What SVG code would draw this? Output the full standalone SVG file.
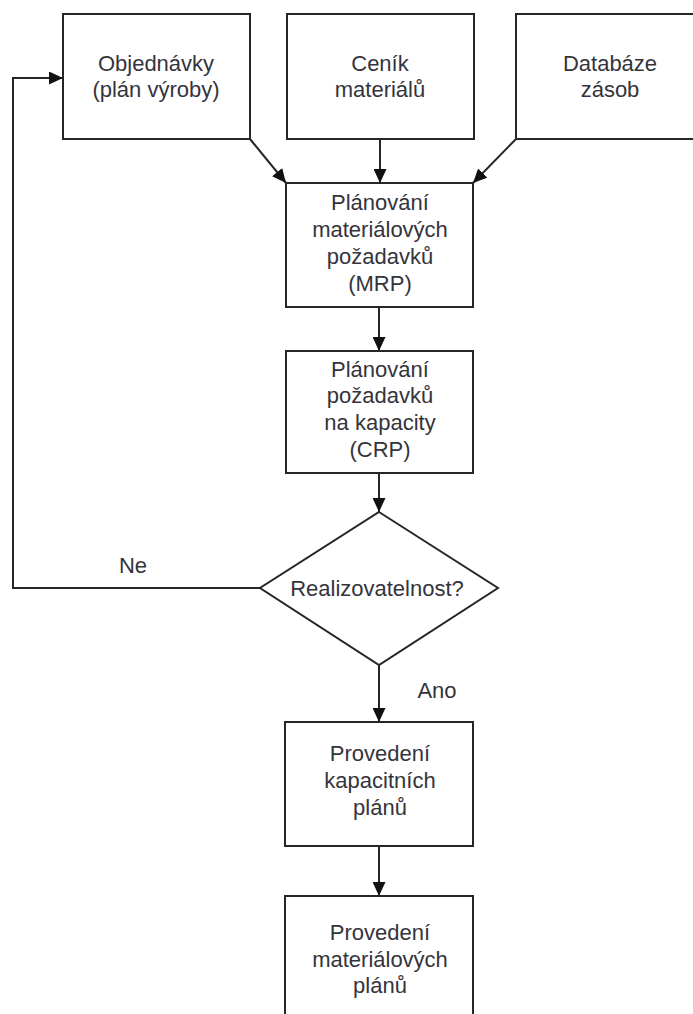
<svg xmlns="http://www.w3.org/2000/svg" width="693" height="1014" viewBox="0 0 693 1014">
  <style>
    .box { fill: #ffffff; stroke: #262626; stroke-width: 2; }
    .line { fill: none; stroke: #262626; stroke-width: 2; }
    .lbl { font-family: "Liberation Sans", Arial, sans-serif; font-size: 22px; fill: #34343c; text-anchor: middle; }
  </style>
  <defs>
    <marker id="arrow" viewBox="0 0 14 13" refX="14" refY="6.5" markerWidth="14" markerHeight="13" markerUnits="userSpaceOnUse" orient="auto">
      <path d="M0,0 L14,6.5 L0,13 Z" fill="#111111"/>
    </marker>
  </defs>
  <rect width="693" height="1014" fill="#ffffff"/>

  <g id="connectors">
    <!-- inputs into MRP -->
    <line class="line" x1="250" y1="139" x2="286" y2="183" marker-end="url(#arrow)"/>
    <line class="line" x1="380" y1="139" x2="380" y2="183" marker-end="url(#arrow)"/>
    <line class="line" x1="516" y1="139" x2="473" y2="183" marker-end="url(#arrow)"/>
    <!-- main flow -->
    <line class="line" x1="379" y1="307" x2="379" y2="351" marker-end="url(#arrow)"/>
    <line class="line" x1="379" y1="473" x2="379" y2="512" marker-end="url(#arrow)"/>
    <line class="line" x1="379" y1="665" x2="379" y2="722" marker-end="url(#arrow)"/>
    <line class="line" x1="379" y1="846" x2="379" y2="896" marker-end="url(#arrow)"/>
    <!-- "Ne" feedback loop -->
    <polyline class="line" points="260,588 13,588 13,78 63,78" marker-end="url(#arrow)"/>
    <text class="lbl" x="133" y="573">Ne</text>
    <text class="lbl" x="437" y="698">Ano</text>
  </g>

  <g id="objednavky">
    <rect class="box" x="63" y="14" width="187" height="125"/>
    <text class="lbl" x="156" y="71">Objednávky</text>
    <text class="lbl" x="156" y="97">(plán výroby)</text>
  </g>

  <g id="cenik">
    <rect class="box" x="287" y="14" width="187" height="125"/>
    <text class="lbl" x="380" y="71">Ceník</text>
    <text class="lbl" x="380" y="97">materiálů</text>
  </g>

  <g id="databaze">
    <rect class="box" x="516" y="14" width="187" height="125"/>
    <text class="lbl" x="610" y="71">Databáze</text>
    <text class="lbl" x="610" y="97">zásob</text>
  </g>

  <g id="mrp">
    <rect class="box" x="286" y="183" width="187" height="124"/>
    <text class="lbl" x="380" y="210">Plánování</text>
    <text class="lbl" x="380" y="237">materiálových</text>
    <text class="lbl" x="380" y="264">požadavků</text>
    <text class="lbl" x="380" y="291">(MRP)</text>
  </g>

  <g id="crp">
    <rect class="box" x="286" y="351" width="187" height="122"/>
    <text class="lbl" x="380" y="377">Plánování</text>
    <text class="lbl" x="380" y="403">požadavků</text>
    <text class="lbl" x="380" y="430">na kapacity</text>
    <text class="lbl" x="380" y="457">(CRP)</text>
  </g>

  <g id="realizovatelnost">
    <polygon class="box" points="379,512 498,588 379,665 260,588"/>
    <text class="lbl" x="377" y="596">Realizovatelnost?</text>
  </g>

  <g id="kapacitni-plany">
    <rect class="box" x="285" y="722" width="188" height="124"/>
    <text class="lbl" x="380" y="761">Provedení</text>
    <text class="lbl" x="380" y="788">kapacitních</text>
    <text class="lbl" x="380" y="815">plánů</text>
  </g>

  <g id="materialove-plany">
    <rect class="box" x="285" y="896" width="188" height="126"/>
    <text class="lbl" x="380" y="940">Provedení</text>
    <text class="lbl" x="380" y="967">materiálových</text>
    <text class="lbl" x="380" y="993">plánů</text>
  </g>
</svg>
